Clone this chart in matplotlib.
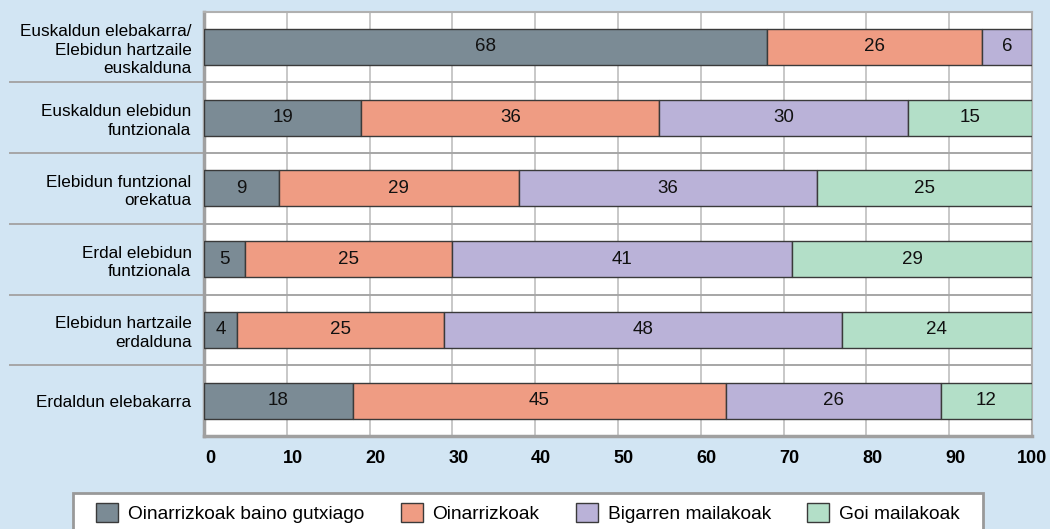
import numpy as np
import matplotlib
matplotlib.use("Agg")
from matplotlib import pyplot as plt
from matplotlib.patches import Rectangle
from matplotlib.transforms import ScaledTranslation

plt.rcParams['font.family'] = ['Liberation Sans', 'DejaVu Sans']

# Data
categories = [
    "Euskaldun elebakarra/\nElebidun hartzaile\neuskalduna",
    "Euskaldun elebidun\nfuntzionala",
    "Elebidun funtzional\norekatua",
    "Erdal elebidun\nfuntzionala",
    "Elebidun hartzaile\nerdalduna",
    "Erdaldun elebakarra",
]
series_names = ["Oinarrizkoak baino gutxiago", "Oinarrizkoak",
                "Bigarren mailakoak", "Goi mailakoak"]
# bar widths as drawn (rows fill to 100)
gutxiago = [68, 19, 9, 5, 4, 18]
oinarrizkoak = [26, 36, 29, 25, 25, 45]
bigarren = [6, 30, 36, 41, 48, 26]
goi = [0, 15, 26, 29, 23, 11]
# printed (rounded) labels
gutxiago_lbl = ["68", "19", "9", "5", "4", "18"]
oinarrizkoak_lbl = ["26", "36", "29", "25", "25", "45"]
bigarren_lbl = ["6", "30", "36", "41", "48", "26"]
goi_lbl = ["", "15", "25", "29", "24", "12"]
colors = ["#7b8b95", "#ef9c83", "#bab2d8", "#b3dfc8"]
x_ticks = [0, 10, 20, 30, 40, 50, 60, 70, 80, 90, 100]

bg = "#d2e5f3"
W, H = 1050, 529
fig = plt.figure(figsize=(W / 100, H / 100), dpi=100, facecolor=bg)
ax = fig.add_axes([204 / W, 1 - 436 / H, (1032 - 204) / W, (436 - 11.5) / H])
ax.set_facecolor("white")

y = np.arange(len(categories))
left = np.zeros(len(categories))
handles = []
for vals, lbls, col, name in zip([gutxiago, oinarrizkoak, bigarren, goi],
                                 [gutxiago_lbl, oinarrizkoak_lbl, bigarren_lbl, goi_lbl],
                                 colors, series_names):
    vals = np.array(vals, dtype=float)
    bars = ax.barh(y, vals, left=left, height=0.51, color=col,
                   edgecolor="#3a3a3a", linewidth=1.0, label=name, zorder=3)
    ax.bar_label(bars, labels=lbls, label_type="center", fontsize=13.5,
                 color="#111111")
    handles.append(bars)
    left += vals

ax.set_xlim(0, 100)
ax.set_ylim(len(categories) - 0.5, -0.5)
ax.set_xticks(x_ticks)
ax.set_xticklabels([str(t) for t in x_ticks], fontsize=13, fontweight="bold")
ax.tick_params(axis="x", length=0, pad=10)
tick_labels = ax.get_xticklabels()
for i, lab in enumerate(tick_labels):
    # small shift to the right, as in the original; the last one stays inside
    dx = 6 if i < len(tick_labels) - 1 else 0
    lab.set_transform(lab.get_transform() + ScaledTranslation(dx / 100, 0, fig.dpi_scale_trans))
ax.set_yticks(y)
ax.set_yticklabels(categories, fontsize=12.3, ha="right", multialignment="right",
                   linespacing=1.3)
ax.tick_params(axis="y", length=0, pad=9)

ax.xaxis.grid(True, color="#c4c4c4", linewidth=1.3, zorder=0)
ax.set_axisbelow(True)

# category separators, extended into the label area
for s in np.arange(0.5, len(categories) - 0.5, 1.0):
    ax.plot([-194 / 828, 1], [s, s], color="#a6a6a6", linewidth=1.4,
            transform=ax.get_yaxis_transform(), clip_on=False, zorder=1)

for side in ["left", "bottom"]:
    ax.spines[side].set_color("#a0a0a0")
    ax.spines[side].set_linewidth(2.5)
for side in ["top", "right"]:
    ax.spines[side].set_color("#b0b0b0")
    ax.spines[side].set_linewidth(1.5)

# legend box
fig.patches.append(Rectangle((73 / W, -20 / H), (983 - 73) / W, (529 - 493 + 20) / H,
                             transform=fig.transFigure, facecolor="white",
                             edgecolor="#999999", linewidth=2.0, zorder=0))
fig.legend(handles=handles, labels=series_names, loc="center",
           bbox_to_anchor=(528 / W, 1 - 513 / H), ncol=4, frameon=False,
           fontsize=13.8, handlelength=1.15, handleheight=1.1,
           handletextpad=0.5, columnspacing=1.9, borderpad=0)

plt.savefig("out.png", dpi=100, facecolor=bg)
